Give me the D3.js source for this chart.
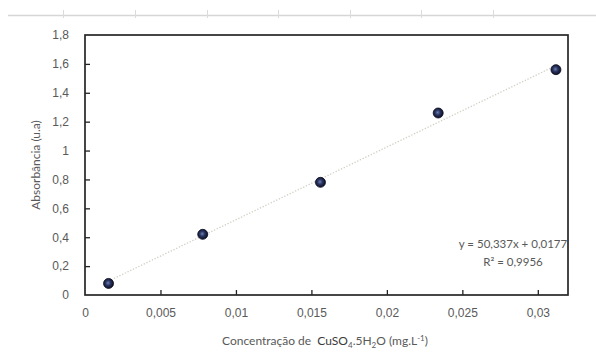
<!DOCTYPE html>
<html>
<head>
<meta charset="utf-8">
<script src="https://cdn.jsdelivr.net/npm/d3@7"></script>
<style>
  html, body { margin: 0; padding: 0; background: #fff; }
  svg { display: block; font-family: Lato, "Open Sans", sans-serif; }
</style>
</head>
<body>
<svg id="chart" width="596" height="362"></svg>
<script>
// data
const concentrations = [0.00156, 0.0078, 0.0156, 0.0234, 0.0312];
const absorbances = [0.08, 0.42, 0.78, 1.26, 1.56];
const xTicks = [0, 0.005, 0.01, 0.015, 0.02, 0.025, 0.03];
const yTicks = [0, 0.2, 0.4, 0.6, 0.8, 1, 1.2, 1.4, 1.6, 1.8];
const fitSlope = 50.337;
const fitIntercept = 0.0177;
const fitLabels = ["y = 50,337x + 0,0177", "R² = 0,9956"];
// column separators of the spreadsheet strip at the top
const stripMarks = [63, 135, 207, 278, 350, 421, 493];

const width = 596, height = 362;
const margin = { top: 35, right: 28, bottom: 67, left: 85 };
const textColor = "#595959";

const svg = d3.select("#chart");
const ptBR = d3.formatLocale({ decimal: ",", thousands: ".", grouping: [3], currency: ["R$", ""] });
const fmt = ptBR.format("~g");

// spreadsheet strip
svg.append("line")
  .attr("x1", 8).attr("x2", width).attr("y1", 15.5).attr("y2", 15.5)
  .attr("stroke", "#d6d6d6").attr("stroke-width", 1.5);
svg.selectAll(".strip")
  .data(stripMarks)
  .join("line")
  .attr("x1", d => d + 0.5).attr("x2", d => d + 0.5)
  .attr("y1", 10).attr("y2", 18)
  .attr("stroke", "#dcdcdc");

const x = d3.scaleLinear().domain([0, 0.032]).range([margin.left, width - margin.right]);
const y = d3.scaleLinear().domain([0, 1.8]).range([height - margin.bottom, margin.top]);

// x axis (ticks drawn inside)
const xAxis = svg.append("g")
  .attr("transform", `translate(0,${y(0)})`)
  .call(d3.axisBottom(x).tickValues(xTicks).tickFormat(fmt).tickSizeInner(-5).tickSizeOuter(0).tickPadding(13));
xAxis.select(".domain").remove();
xAxis.selectAll(".tick line").attr("stroke", "#222").attr("stroke-width", 1.3)
  .filter(d => d === 0).remove();
xAxis.selectAll("text").attr("fill", textColor).style("font-size", "12px");

// y axis
const yAxis = svg.append("g")
  .attr("transform", `translate(${x(0)},0)`)
  .call(d3.axisLeft(y).tickValues(yTicks).tickFormat(fmt).tickSizeInner(-5).tickSizeOuter(0).tickPadding(16));
yAxis.select(".domain").remove();
yAxis.selectAll(".tick line").attr("stroke", "#222").attr("stroke-width", 1.3)
  .filter(d => d === 0 || d === 1.8).remove();
yAxis.selectAll("text").attr("fill", textColor).style("font-size", "12px");

// plot frame
svg.append("rect")
  .attr("x", x(0)).attr("y", y(1.8))
  .attr("width", x(0.032) - x(0)).attr("height", y(0) - y(1.8))
  .attr("fill", "none").attr("stroke", "#262626").attr("stroke-width", 1.7);

// trend line from the fitted equation
const xExt = d3.extent(concentrations);
svg.append("path")
  .datum(xExt)
  .attr("d", d3.line().x(d => x(d)).y(d => y(fitSlope * d + fitIntercept)))
  .attr("stroke", "#cfcfc4").attr("stroke-width", 1.3)
  .attr("stroke-dasharray", "1.3 1.7").attr("fill", "none");

// markers
const grad = svg.append("defs").append("radialGradient")
  .attr("id", "dot").attr("cx", "45%").attr("cy", "45%").attr("r", "55%");
grad.append("stop").attr("offset", "0%").attr("stop-color", "#6f7fae");
grad.append("stop").attr("offset", "45%").attr("stop-color", "#2a3563");
grad.append("stop").attr("offset", "100%").attr("stop-color", "#0c0f24");

svg.selectAll(".pt")
  .data(concentrations.map((c, i) => [c, absorbances[i]]))
  .join("circle")
  .attr("cx", d => x(d[0])).attr("cy", d => y(d[1]))
  .attr("r", 5).attr("fill", "url(#dot)")
  .attr("stroke", "#0a0a1a").attr("stroke-width", 0.8);

// equation labels
svg.selectAll(".fit")
  .data(fitLabels)
  .join("text")
  .attr("x", 513).attr("y", (d, i) => 248 + i * 18)
  .attr("text-anchor", "middle")
  .attr("fill", textColor).style("font-size", "11.5px")
  .text(d => d);

// axis titles
svg.append("text")
  .attr("transform", `translate(40,${(y(0) + y(1.8)) / 2}) rotate(-90)`)
  .attr("text-anchor", "middle")
  .attr("fill", textColor).style("font-size", "12px")
  .text("Absorbância (u.a)");

const xt = svg.append("text")
  .attr("x", 325).attr("y", 345)
  .attr("text-anchor", "middle")
  .attr("fill", textColor).style("font-size", "12px")
  .style("white-space", "pre");
xt.append("tspan").text("Concentração de\u00a0 ");
xt.append("tspan").attr("fill", "#3a3a3a").text("CuSO");
xt.append("tspan").attr("dy", 3).style("font-size", "8px").text("4");
xt.append("tspan").attr("dy", -3).text(".5H");
xt.append("tspan").attr("dy", 3).style("font-size", "8px").text("2");
xt.append("tspan").attr("dy", -3).text("O (mg.L");
xt.append("tspan").attr("dy", -4).style("font-size", "8px").text("-1");
xt.append("tspan").attr("dy", 4).text(")");
</script>
</body>
</html>
